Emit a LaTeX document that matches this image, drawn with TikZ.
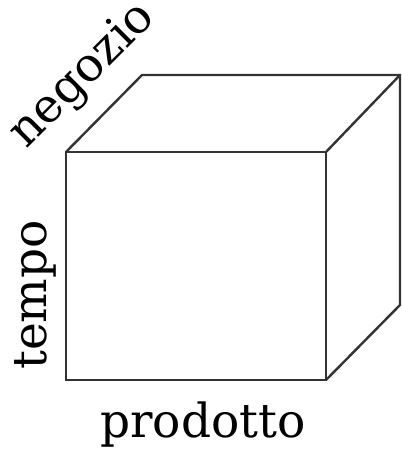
\documentclass[tikz,border=0pt]{standalone}
\usepackage{fontspec}
\setmainfont{DejaVu Serif}
\usepackage{xcolor}
\usepackage{tikz}
\usetikzlibrary{positioning, calc}
\definecolor{edgegray}{HTML}{333333}

\begin{document}
\begin{tikzpicture}[x=1pt, y=1pt,
    edge/.style={draw=edgegray, line width=2.4pt, line join=miter},
    axislabel/.style={font=\fontsize{47}{47}\selectfont, inner sep=0pt}]
    \useasboundingbox (0,0) rectangle (401,449);
    % front face
    \coordinate (fbl) at (66,69);
    \coordinate (fbr) at (326,69);
    \coordinate (ftr) at (326,297);
    \coordinate (ftl) at (66,297);
    % back corners
    \coordinate (btl) at (142,374);
    \coordinate (btr) at (400,374);
    \coordinate (bbr) at (400,144);
    \draw[edge] (fbl) -- (fbr) -- (ftr) -- (ftl) -- cycle;
    \draw[edge] (ftl) -- (btl) -- (btr) -- (bbr) -- (fbr);
    \draw[edge] (ftr) -- (btr);
    % axis labels
    \node[axislabel, anchor=base] (prodotto) at (203,11) {prodotto};
    \node[axislabel, rotate=90] (tempo) at (35,154) {tempo};
    \node[axislabel, rotate=45] (negozio) at (83,373) {negozio};
\end{tikzpicture}
\end{document}
